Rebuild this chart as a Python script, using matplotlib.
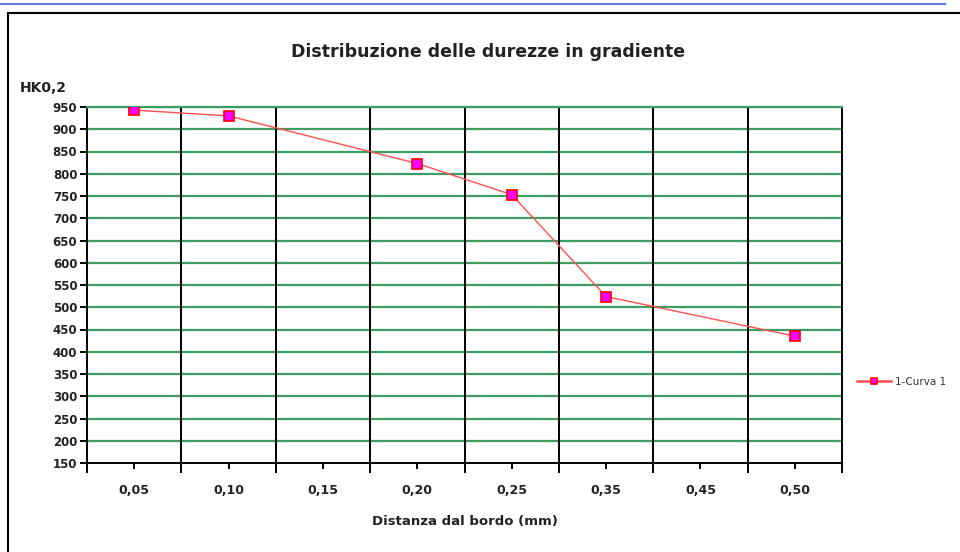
import numpy as np
import matplotlib.pyplot as plt
from matplotlib.patches import Rectangle
from matplotlib.lines import Line2D

plt.rcParams['font.family'] = ['DejaVu Sans']

# data
categories = ['0,05', '0,10', '0,15', '0,20', '0,25', '0,35', '0,45', '0,50']
curve_cats = ['0,05', '0,10', '0,20', '0,25', '0,35', '0,50']
curve_vals = [943, 930, 823, 753, 524, 435]
yticks = list(range(150, 951, 50))

fig = plt.figure(figsize=(9.6, 5.52), dpi=100)

# blue line at top and chart frame
fig.add_artist(Line2D([0, 945 / 960], [1 - 4 / 552, 1 - 4 / 552], color='#5a7cf2',
                      lw=1.5, transform=fig.transFigure))
fig.add_artist(Rectangle((8 / 960, -0.01), 1.0, 1 - 13 / 552 + 0.01, fill=False,
                         edgecolor='black', lw=1.5, transform=fig.transFigure))

ax = fig.add_axes([87 / 960, 1 - 463 / 552, (842 - 87) / 960, (463 - 107) / 552])

xpos = [categories.index(c) for c in curve_cats]
ax.plot(xpos, curve_vals, color='#ff5050', lw=1.0, marker='s', markersize=7,
        markerfacecolor='#ff00ff', markeredgecolor='#ff0000', markeredgewidth=1.2,
        label='1-Curva 1', zorder=5)

n = len(categories)
ax.set_xlim(-0.5, n - 0.5)
ax.set_ylim(150, 950)

for y in yticks[1:]:
    ax.axhline(y, color='#3d9b63', lw=1.6, zorder=1)
for b in np.arange(0.5, n - 0.5, 1.0):
    ax.axvline(b, color='black', lw=1.4, zorder=2)

ax.set_yticks(yticks)
ax.set_yticklabels([str(v) for v in yticks], fontsize=8.5, fontweight='bold',
                   color='#222222')
ax.set_xticks(np.arange(-0.5, n, 1.0))
ax.set_xticklabels([''] * (n + 1))
ax.set_xticks(np.arange(n), minor=True)
ax.set_xticklabels(categories, minor=True, fontsize=9, fontweight='bold', color='#222222')
ax.tick_params(axis='x', which='major', length=7, width=1.4, direction='out')
ax.tick_params(axis='x', which='minor', length=4, width=1.4, direction='out', pad=11)
ax.tick_params(axis='y', length=5, width=1.4, direction='out', pad=2)

for s in ['left', 'bottom', 'right']:
    ax.spines[s].set_linewidth(1.4)
    ax.spines[s].set_color('black')
ax.spines['top'].set_color('#3d9b63')
ax.spines['top'].set_linewidth(1.6)

ax.set_xlabel('Distanza dal bordo (mm)', fontsize=9.5, fontweight='bold', labelpad=13,
              color='#222222')

fig.text(488 / 960, 1 - 52 / 552, 'Distribuzione delle durezze in gradiente',
         ha='center', va='center', fontsize=12.5, fontweight='bold', color='#222222')
fig.text(20 / 960, 1 - 88 / 552, 'HK0,2', ha='left', va='center', fontsize=10,
         fontweight='bold', color='#222222')

leg = fig.legend(loc='center left', bbox_to_anchor=(853 / 960, 1 - 382 / 552),
                 frameon=False, fontsize=7.5, handlelength=3.2, handletextpad=0.4,
                 markerscale=0.6, borderaxespad=0, labelcolor='#333333')
for h in leg.get_lines():
    h.set_linewidth(1.8)

fig.savefig('out.png', dpi=100)
